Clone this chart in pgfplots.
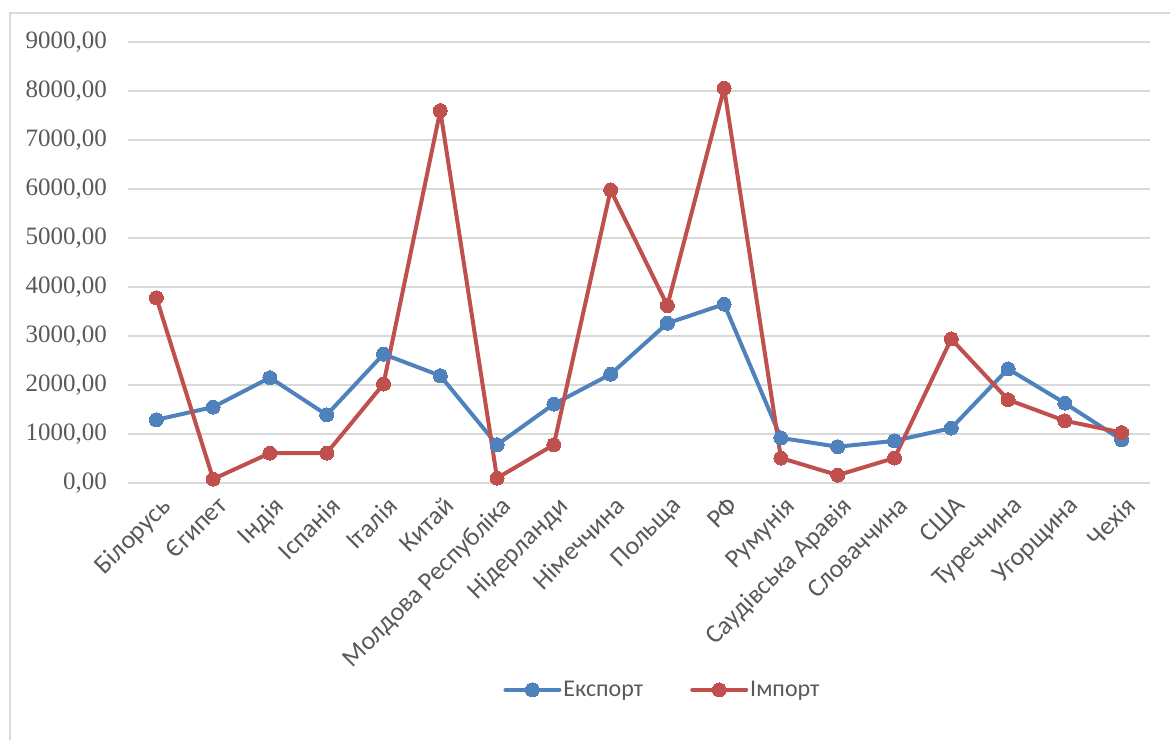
\documentclass[border=0pt]{standalone}
\usepackage{fontspec}
\setmainfont{Carlito}
\newfontfamily\tickfont{Liberation Serif}
\usepackage{pgfplots}
\pgfplotsset{compat=1.18}
\definecolor{expc}{HTML}{4F81BD}
\definecolor{impc}{HTML}{C0504D}
\definecolor{txt}{HTML}{595959}
\definecolor{gridc}{HTML}{D9D9D9}
\begin{document}
\begin{tikzpicture}[x=1pt,y=1pt]
\useasboundingbox (0,0) rectangle (1170,740);
\draw[color=gridc, line width=2.5pt] (10,0) -- (10,727) -- (1170,727);
\begin{axis}[
  at={(128pt,257pt)}, anchor=south west, scale only axis,
  width=1022pt, height=441pt,
  xmin=-0.5, xmax=17.5, ymin=0, ymax=9000,
  ytick={0,1000,...,9000},
  yticklabels={{0,00},{1000,00},{2000,00},{3000,00},{4000,00},{5000,00},{6000,00},{7000,00},{8000,00},{9000,00}},
  xtick={0,...,17},
  xticklabels={Білорусь,Єгипет,Індія,Іспанія,Італія,Китай,Молдова Республіка,Нідерланди,Німеччина,Польща,РФ,Румунія,Саудівська Аравія,Словаччина,США,Туреччина,Угорщина,Чехія},
  axis line style={draw=none},
  ymajorgrids, grid style={gridc, line width=1.2pt},
  major tick length=0pt,
  yticklabel style={font=\fontsize{25}{27}\selectfont\tickfont, text=txt, anchor=east, inner sep=0pt, xshift=-21pt},
  xticklabel style={font=\fontsize{26}{28}\selectfont, text=txt, xshift=3pt, yshift=-12pt, rotate=45, anchor=north east, inner sep=0pt},
  legend style={at={(0.523,-0.469)}, anchor=center, draw=none, fill=none, font=\fontsize{24}{26}\selectfont, text=txt, /tikz/every even column/.append style={column sep=45pt}},
  legend columns=2,
  legend cell align=left,
  legend image code/.code={\draw[#1, mark repeat=2, mark phase=2] plot coordinates {(0pt,0pt) (27pt,0pt) (54pt,0pt)};},
  every axis plot/.append style={line width=4pt, line join=round, line cap=round, mark=*, mark size=7pt},
  clip=false,
]
\addplot[color=expc, mark options={fill=expc, draw=expc, line width=0pt}] coordinates {
(0,1290) (1,1550) (2,2150) (3,1390) (4,2630) (5,2190) (6,780) (7,1610) (8,2220) (9,3260) (10,3650) (11,920) (12,740) (13,860) (14,1120) (15,2330) (16,1630) (17,880)};
\addlegendentry{Експорт}
\addplot[color=impc, mark options={fill=impc, draw=impc, line width=0pt}] coordinates {
(0,3780) (1,80) (2,610) (3,610) (4,2020) (5,7600) (6,100) (7,780) (8,5980) (9,3620) (10,8060) (11,510) (12,160) (13,510) (14,2940) (15,1700) (16,1270) (17,1030)};
\addlegendentry{Імпорт}
\end{axis}
\end{tikzpicture}
\end{document}
